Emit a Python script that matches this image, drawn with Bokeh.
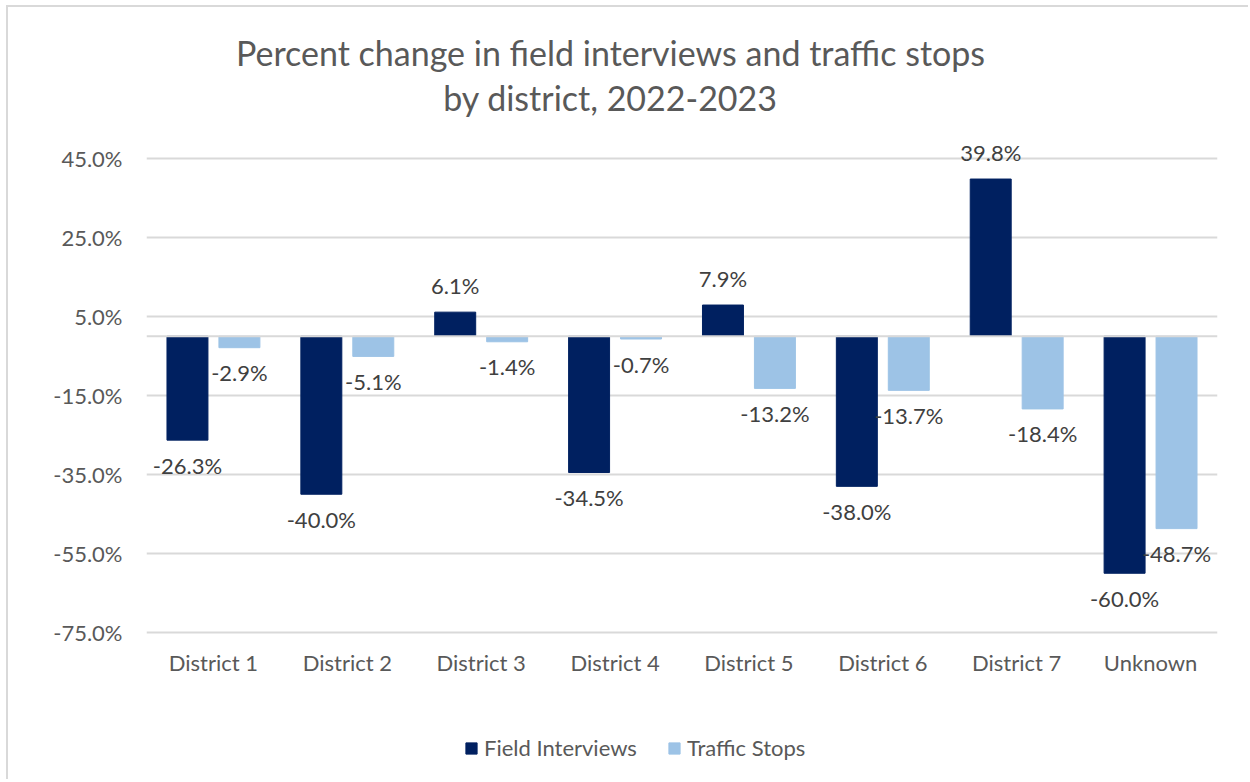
from bokeh.plotting import figure
from bokeh.models import (ColumnDataSource, FactorRange, Range1d, FixedTicker, Span,
                          Label, Legend, LegendItem, CustomJSTickFormatter)
from bokeh.transform import dodge
from bokeh.embed import file_html
from bokeh.resources import INLINE
from bokeh.core.properties import value

# ---- data ----
districts = ["District 1", "District 2", "District 3", "District 4",
             "District 5", "District 6", "District 7", "Unknown"]
field_interviews = [-26.3, -40.0, 6.1, -34.5, 7.9, -38.0, 39.8, -60.0]
traffic_stops = [-2.9, -5.1, -1.4, -0.7, -13.2, -13.7, -18.4, -48.7]
y_ticks = [45, 25, 5, -15, -35, -55, -75]
series_names = ["Field Interviews", "Traffic Stops"]
title_lines = ["Percent change in field interviews and traffic stops",
               "by district, 2022-2023"]

DARK = "#002060"
LIGHT = "#9DC3E6"
GRID = "#D9D9D9"
AXIS_TXT = "#595959"
LBL_TXT = "#404040"
FONT = "Lato"

def offsets(vals):
    return [25 if v < 0 else -27 for v in vals]

src = ColumnDataSource(dict(
    cat=districts,
    fi=field_interviews,
    ts=traffic_stops,
    fi_lbl=[f"{v:.1f}%" for v in field_interviews],
    ts_lbl=[f"{v:.1f}%" for v in traffic_stops],
    fi_off=offsets(field_interviews),
    ts_off=offsets(traffic_stops),
))

W, H = 1242, 774
# frame spans (nearly) the whole canvas height so that title/legend are not clipped
p = figure(width=W, height=H, x_range=FactorRange(*districts),
           y_range=Range1d(-112.72, 75.63), output_backend="svg",
           toolbar_location=None, x_axis_location="above",
           min_border_left=138, min_border_right=33, min_border_top=30,
           min_border_bottom=0)
p.styles = {"margin-left": "6px", "margin-top": "5px",
            "border-left": "2px solid #D9D9D9", "border-top": "2px solid #D9D9D9"}
p.outline_line_color = None
p.background_fill_color = "white"
p.border_fill_color = "white"

# axes
p.yaxis.ticker = FixedTicker(ticks=y_ticks)
p.yaxis.formatter = CustomJSTickFormatter(code="return tick.toFixed(1) + '%';")
p.yaxis.axis_line_color = None
p.yaxis.major_tick_line_color = None
p.yaxis.minor_tick_line_color = None
p.yaxis.major_tick_out = 0
p.yaxis.major_label_standoff = 24
p.yaxis.major_label_text_font = FONT
p.yaxis.major_label_text_font_size = "22px"
p.yaxis.major_label_text_color = AXIS_TXT

p.xaxis.fixed_location = -86.1
p.xaxis.axis_line_color = None
p.xaxis.major_tick_line_color = None
p.xaxis.minor_tick_line_color = None
p.xaxis.major_tick_out = 0
p.xaxis.major_label_standoff = 0
p.xaxis.major_label_text_font = FONT
p.xaxis.major_label_text_font_size = "22px"
p.xaxis.major_label_text_color = AXIS_TXT

p.xgrid.grid_line_color = None
p.ygrid.grid_line_color = GRID
p.ygrid.grid_line_width = 2

p.add_layout(Span(location=0, dimension="width", line_color=GRID, line_width=2))

# bars
off = 0.194
bw = 0.306
r1 = p.vbar(x=dodge("cat", -off, range=p.x_range), top="fi", bottom=0, width=bw,
            source=src, fill_color=DARK, line_color=DARK)
r2 = p.vbar(x=dodge("cat", off, range=p.x_range), top="ts", bottom=0, width=bw,
            source=src, fill_color=LIGHT, line_color=LIGHT)

# data labels
for col, lbl, o, d in [("fi", "fi_lbl", "fi_off", -off), ("ts", "ts_lbl", "ts_off", off)]:
    p.text(x=dodge("cat", d, range=p.x_range), y=col, text=lbl, y_offset=o,
           source=src, text_align="center", text_baseline="middle",
           text_font=value(FONT), text_font_size="22px", text_color=LBL_TXT)

# title
for line, yv in zip(title_lines, [71.8, 60.4]):
    p.add_layout(Label(x=3.466, y=yv, text=line, text_align="center",
                       text_baseline="alphabetic", text_font=FONT,
                       text_font_size="34px", text_color=AXIS_TXT))

# legend
legend = Legend(items=[LegendItem(label=series_names[0], renderers=[r1]),
                       LegendItem(label=series_names[1], renderers=[r2])],
                orientation="horizontal", location=(318, 20),
                glyph_width=14, glyph_height=14, label_standoff=6, spacing=30,
                padding=0, margin=0, border_line_color=None,
                background_fill_alpha=0, label_text_font=FONT,
                label_text_font_size="22px", label_text_color=AXIS_TXT)
p.add_layout(legend, "center")

open("out.html", "w").write(file_html(p, INLINE))
